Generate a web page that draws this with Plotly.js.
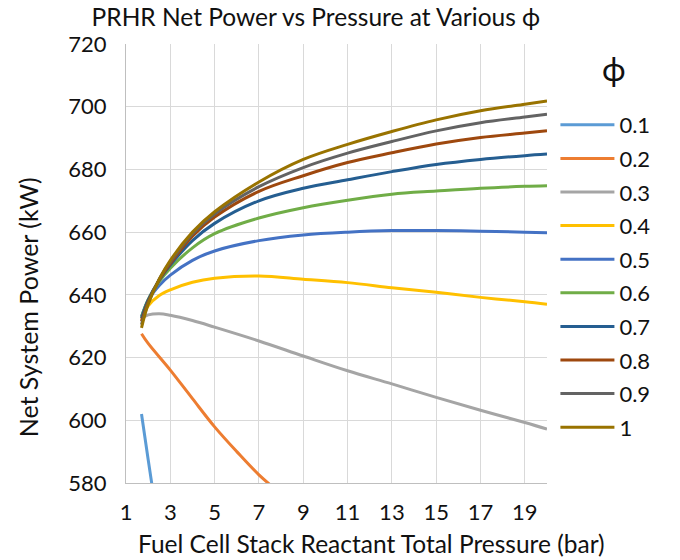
<!DOCTYPE html>
<html>
<head>
<meta charset="utf-8">
<script src="https://cdn.plot.ly/plotly-3.0.1.min.js"></script>
<style>
  html, body { margin: 0; padding: 0; background: #fff; }
  #chart { width: 680px; height: 560px; }
</style>
</head>
<body>
<div id="chart"></div>
<script>
// Stack reactant total pressure (bar) shared by the phi = 0.3 ... 1 runs
const pressure = [1.7, 2, 2.5, 3, 4, 5, 7, 9, 11, 13, 15, 17, 19, 20];

// Low-phi runs fall off quickly, so they carry their own pressure points
const pressureLow01 = [1.7, 2, 2.5, 3];
const pressureLow02 = [1.7, 2, 3, 4, 5, 6, 7, 8, 9];

// Net system power (kW) for each stoichiometric ratio phi
const power01 = [602, 587.5, 564, 541];
const power02 = [627.6, 624.5, 616.0, 606.9, 597.9, 590.0, 582.6, 576.5, 571.0];
const power03 = [632.5, 633.6, 634.0, 633.5, 631.8, 629.7, 625.3, 620.5, 615.8, 611.6, 607.3, 603.2, 599.3, 597.2];
const power04 = [632.0, 636.5, 639.8, 641.6, 644.0, 645.3, 646.0, 645.0, 643.9, 642.3, 640.8, 639.2, 637.8, 637.0];
const power05 = [633.0, 638.3, 643.0, 646.3, 651.0, 654.0, 657.3, 659.1, 660.0, 660.5, 660.5, 660.3, 660.0, 659.8];
const power06 = [633.0, 638.5, 644.2, 648.5, 655.0, 659.5, 664.5, 667.8, 670.2, 672.1, 673.1, 674.0, 674.6, 674.8];
const power07 = [632.5, 638.3, 644.7, 649.5, 657.3, 662.8, 670.0, 674.0, 676.7, 679.3, 681.6, 683.2, 684.4, 684.9];
const power08 = [631.5, 637.8, 644.8, 650.0, 658.7, 664.8, 673.0, 678.0, 682.2, 685.3, 688.1, 690.2, 691.6, 692.3];
const power09 = [630.5, 637.3, 645.0, 650.5, 659.5, 665.8, 674.5, 680.6, 685.2, 688.9, 692.3, 694.9, 696.7, 697.6];
const power10 = [629.5, 637.0, 645.0, 651.0, 660.0, 666.5, 676.0, 683.2, 688.0, 692.1, 695.8, 698.7, 700.8, 701.8];

const phiLabels = ['0.1', '0.2', '0.3', '0.4', '0.5', '0.6', '0.7', '0.8', '0.9', '1'];
const xTickVals = [1, 3, 5, 7, 9, 11, 13, 15, 17, 19];
const yTickVals = [580, 600, 620, 640, 660, 680, 700, 720];

const seriesX = [pressureLow01, pressureLow02, pressure, pressure, pressure,
                 pressure, pressure, pressure, pressure, pressure];
const seriesY = [power01, power02, power03, power04, power05,
                 power06, power07, power08, power09, power10];
const colors = ['#5B9BD5', '#ED7D31', '#A5A5A5', '#FFC000', '#4472C4',
                '#70AD47', '#255E91', '#9E480E', '#636363', '#997300'];

const FONT = 'Lato, "Open Sans", sans-serif';
const INK = '#111111';

const traces = phiLabels.map((name, i) => ({
  type: 'scatter',
  mode: 'lines',
  name: name,
  legendgroup: 'g' + i,
  x: seriesX[i],
  y: seriesY[i],
  line: { color: colors[i], width: 3, shape: 'spline', smoothing: 1 },
  hoverinfo: 'x+y+name'
}));

const layout = {
  width: 680,
  height: 560,
  paper_bgcolor: '#ffffff',
  plot_bgcolor: '#ffffff',
  margin: { l: 126, r: 133, t: 44, b: 77 },
  font: { family: FONT, color: INK, size: 22 },
  title: {
    text: 'PRHR Net Power vs Pressure at Various ϕ',
    font: { family: FONT, size: 24.5, color: INK },
    xref: 'paper', x: 0.451, xanchor: 'center',
    yref: 'container', y: 0.968, yanchor: 'middle'
  },
  xaxis: {
    range: [1, 20],
    tickvals: xTickVals,
    ticktext: xTickVals.map(String),
    showgrid: true,
    gridcolor: '#D9D9D9',
    gridwidth: 1,
    showline: true,
    linecolor: '#BFBFBF',
    linewidth: 1,
    zeroline: false,
    ticks: '',
    ticklabelstandoff: 10,
    tickfont: { family: FONT, size: 22, color: INK }
  },
  yaxis: {
    range: [580, 720],
    tickvals: yTickVals,
    showgrid: true,
    gridcolor: '#D9D9D9',
    gridwidth: 1,
    showline: true,
    linecolor: '#BFBFBF',
    linewidth: 1,
    zeroline: false,
    ticks: '',
    ticklabelstandoff: 14,
    tickfont: { family: FONT, size: 22, color: INK }
  },
  legend: {
    x: 1.02, xanchor: 'left',
    y: 0.8633, yanchor: 'top',
    bgcolor: 'rgba(0,0,0,0)',
    font: { family: FONT, size: 22, color: INK },
    tracegroupgap: 2,
    itemwidth: 54
  },
  annotations: [
    {
      // axis titles, placed the way the report lays them out
      text: 'Fuel Cell Stack Reactant Total Pressure (bar)',
      xref: 'paper', yref: 'paper', x: 0.582, y: -0.1754,
      xanchor: 'center', yanchor: 'bottom', showarrow: false,
      font: { family: FONT, size: 24.5, color: INK }
    },
    {
      text: 'Net System Power (kW)',
      xref: 'paper', yref: 'paper', x: -0.233, y: 0.4,
      xanchor: 'center', yanchor: 'middle', showarrow: false, textangle: -90,
      font: { family: FONT, size: 25, color: INK }
    },
    {
      // legend heading
      text: 'ϕ',
      xref: 'paper', yref: 'paper', x: 1.159, y: 0.945,
      xanchor: 'center', yanchor: 'middle', showarrow: false,
      font: { family: FONT, size: 32, color: INK }
    }
  ],
  showlegend: true
};

Plotly.newPlot('chart', traces, layout, { displayModeBar: false, staticPlot: true });
</script>
</body>
</html>
